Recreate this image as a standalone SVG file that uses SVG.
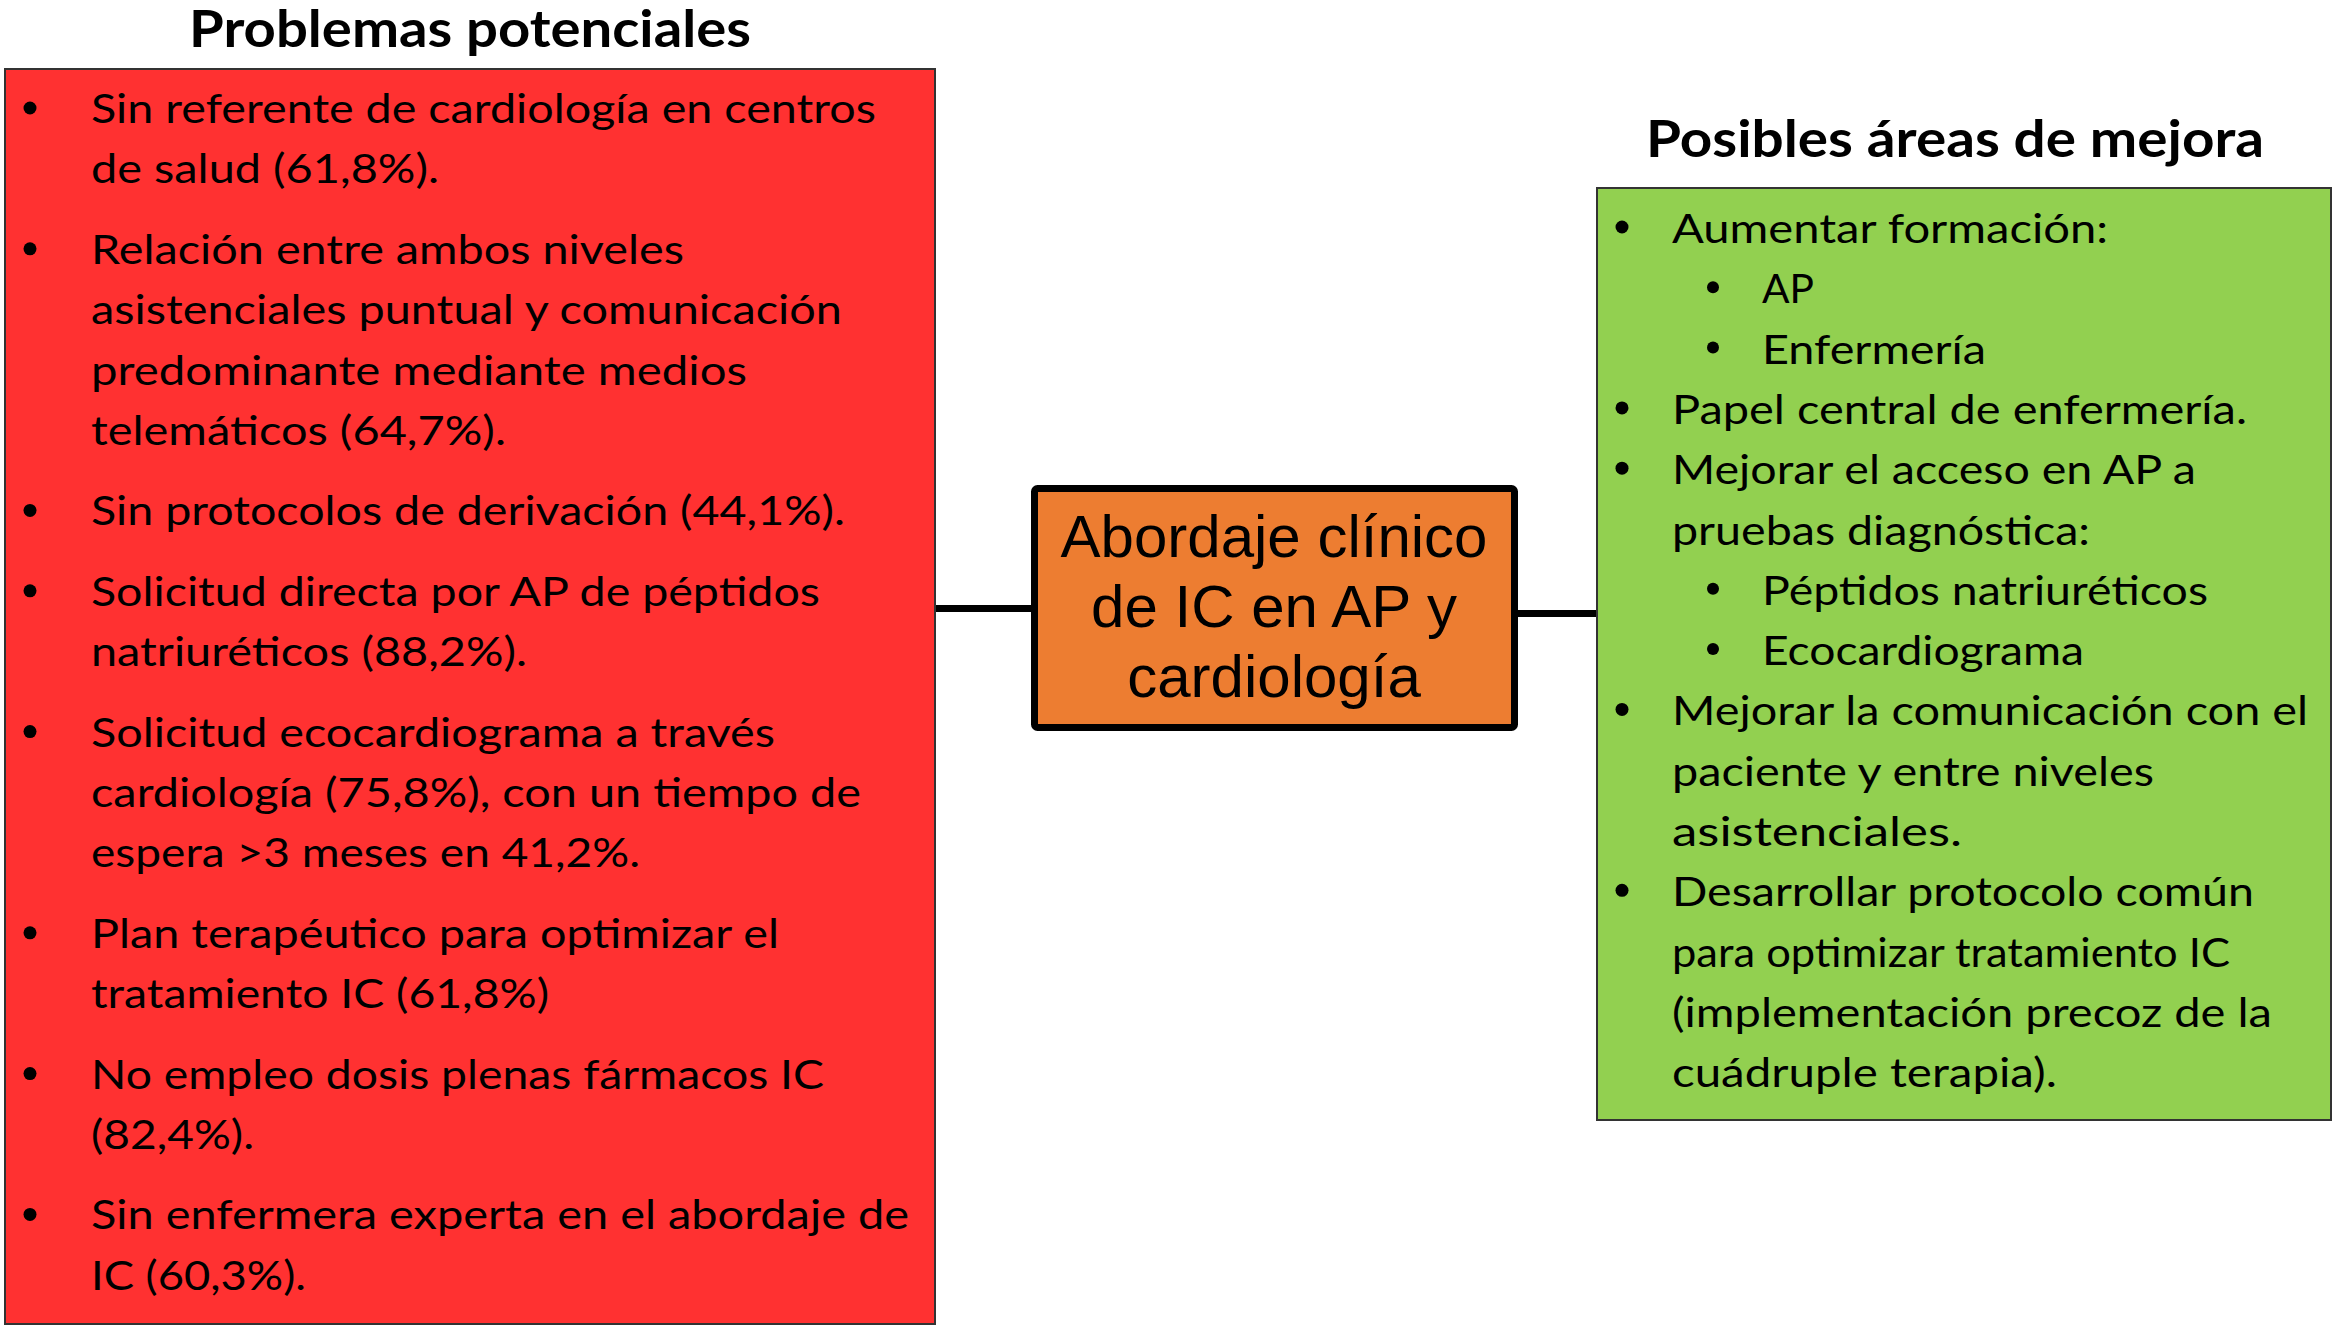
<svg xmlns="http://www.w3.org/2000/svg" width="2341" height="1333" viewBox="0 0 2341 1333">
<style>
.t{font-family:Lato,"Open Sans","Noto Sans",sans-serif;font-size:41px;fill:#000;}
.h{font-family:Lato,"Open Sans","Noto Sans",sans-serif;font-size:52px;font-weight:700;fill:#000;}
.c{font-family:"Liberation Sans",Arial,sans-serif;font-size:60px;fill:#000;text-anchor:middle;}
.b{fill:#000;}
.conn{stroke:#000;stroke-width:7;fill:none;}
</style>
<rect width="2341" height="1333" fill="#fff"/>
<g id="connectors">
<line class="conn" x1="935" y1="608.5" x2="1032" y2="608.5"/>
<line class="conn" x1="1517" y1="613.5" x2="1597" y2="613.5"/>
</g>
<g id="problemas">
<text class="h" x="189" y="47" textLength="562" lengthAdjust="spacingAndGlyphs">Problemas potenciales</text>
<rect x="5" y="69" width="930" height="1255" fill="#FF3131" stroke="#333" stroke-width="2"/>
<g class="b">
<circle cx="30" cy="108" r="6.5"/>
<circle cx="30" cy="248.8" r="6.5"/>
<circle cx="30" cy="510.4" r="6.5"/>
<circle cx="30" cy="590.8" r="6.5"/>
<circle cx="30" cy="731.6" r="6.5"/>
<circle cx="30" cy="932.8" r="6.5"/>
<circle cx="30" cy="1073.6" r="6.5"/>
<circle cx="30" cy="1214.4" r="6.5"/>
</g>
<text class="t" x="91" y="123" textLength="785" lengthAdjust="spacingAndGlyphs">Sin referente de cardiología en centros</text>
<text class="t" x="91" y="183.4" textLength="348" lengthAdjust="spacingAndGlyphs">de salud (61,8%).</text>
<text class="t" x="91" y="263.8" textLength="593" lengthAdjust="spacingAndGlyphs">Relación entre ambos niveles</text>
<text class="t" x="91" y="324.2" textLength="751" lengthAdjust="spacingAndGlyphs">asistenciales puntual y comunicación</text>
<text class="t" x="91" y="384.6" textLength="656" lengthAdjust="spacingAndGlyphs">predominante mediante medios</text>
<text class="t" x="91" y="445" textLength="415" lengthAdjust="spacingAndGlyphs">telemáticos (64,7%).</text>
<text class="t" x="91" y="525.4" textLength="754" lengthAdjust="spacingAndGlyphs">Sin protocolos de derivación (44,1%).</text>
<text class="t" x="91" y="605.8" textLength="729" lengthAdjust="spacingAndGlyphs">Solicitud directa por AP de péptidos</text>
<text class="t" x="91" y="666.2" textLength="436" lengthAdjust="spacingAndGlyphs">natriuréticos (88,2%).</text>
<text class="t" x="91" y="746.6" textLength="684" lengthAdjust="spacingAndGlyphs">Solicitud ecocardiograma a través</text>
<text class="t" x="91" y="807" textLength="770" lengthAdjust="spacingAndGlyphs">cardiología (75,8%), con un tiempo de</text>
<text class="t" x="91" y="867.4" textLength="549" lengthAdjust="spacingAndGlyphs">espera &gt;3 meses en 41,2%.</text>
<text class="t" x="91" y="947.8" textLength="688" lengthAdjust="spacingAndGlyphs">Plan terapéutico para optimizar el</text>
<text class="t" x="91" y="1008.2" textLength="458" lengthAdjust="spacingAndGlyphs">tratamiento IC (61,8%)</text>
<text class="t" x="91" y="1088.6" textLength="733" lengthAdjust="spacingAndGlyphs">No empleo dosis plenas fármacos IC</text>
<text class="t" x="91" y="1149" textLength="163" lengthAdjust="spacingAndGlyphs">(82,4%).</text>
<text class="t" x="91" y="1229.4" textLength="818" lengthAdjust="spacingAndGlyphs">Sin enfermera experta en el abordaje de</text>
<text class="t" x="91" y="1289.8" textLength="215" lengthAdjust="spacingAndGlyphs">IC (60,3%).</text>
</g>
<g id="abordaje">
<rect x="1034.5" y="488.5" width="480" height="239" rx="3" fill="#ED7D31" stroke="#000" stroke-width="7"/>
<text class="c" x="1274" y="557">Abordaje clínico</text>
<text class="c" x="1274" y="627">de IC en AP y</text>
<text class="c" x="1274" y="697">cardiología</text>
</g>
<g id="mejora">
<text class="h" x="1646" y="157" textLength="618" lengthAdjust="spacingAndGlyphs">Posibles áreas de mejora</text>
<rect x="1597" y="188" width="734" height="932" fill="#92D050" stroke="#333" stroke-width="2"/>
<g class="b">
<circle cx="1622" cy="227" r="6.5"/>
<circle cx="1713" cy="287.3" r="6"/>
<circle cx="1713" cy="347.6" r="6"/>
<circle cx="1622" cy="407.9" r="6.5"/>
<circle cx="1622" cy="468.2" r="6.5"/>
<circle cx="1713" cy="588.8" r="6"/>
<circle cx="1713" cy="649.1" r="6"/>
<circle cx="1622" cy="709.4" r="6.5"/>
<circle cx="1622" cy="890.3" r="6.5"/>
</g>
<text class="t" x="1672" y="243" textLength="436" lengthAdjust="spacingAndGlyphs">Aumentar formación:</text>
<text class="t" x="1762" y="303.3" textLength="52" lengthAdjust="spacingAndGlyphs">AP</text>
<text class="t" x="1762" y="363.6" textLength="224" lengthAdjust="spacingAndGlyphs">Enfermería</text>
<text class="t" x="1672" y="423.9" textLength="575" lengthAdjust="spacingAndGlyphs">Papel central de enfermería.</text>
<text class="t" x="1672" y="484.2" textLength="524" lengthAdjust="spacingAndGlyphs">Mejorar el acceso en AP a</text>
<text class="t" x="1672" y="544.5" textLength="418" lengthAdjust="spacingAndGlyphs">pruebas diagnóstica:</text>
<text class="t" x="1762" y="604.8" textLength="446" lengthAdjust="spacingAndGlyphs">Péptidos natriuréticos</text>
<text class="t" x="1762" y="665.1" textLength="322" lengthAdjust="spacingAndGlyphs">Ecocardiograma</text>
<text class="t" x="1672" y="725.4" textLength="636" lengthAdjust="spacingAndGlyphs">Mejorar la comunicación con el</text>
<text class="t" x="1672" y="785.7" textLength="482" lengthAdjust="spacingAndGlyphs">paciente y entre niveles</text>
<text class="t" x="1672" y="846" textLength="290" lengthAdjust="spacingAndGlyphs">asistenciales.</text>
<text class="t" x="1672" y="906.3" textLength="582" lengthAdjust="spacingAndGlyphs">Desarrollar protocolo común</text>
<text class="t" x="1672" y="966.6" textLength="558" lengthAdjust="spacingAndGlyphs">para optimizar tratamiento IC</text>
<text class="t" x="1672" y="1026.9" textLength="600" lengthAdjust="spacingAndGlyphs">(implementación precoz de la</text>
<text class="t" x="1672" y="1087.2" textLength="385" lengthAdjust="spacingAndGlyphs">cuádruple terapia).</text>
</g>
</svg>
